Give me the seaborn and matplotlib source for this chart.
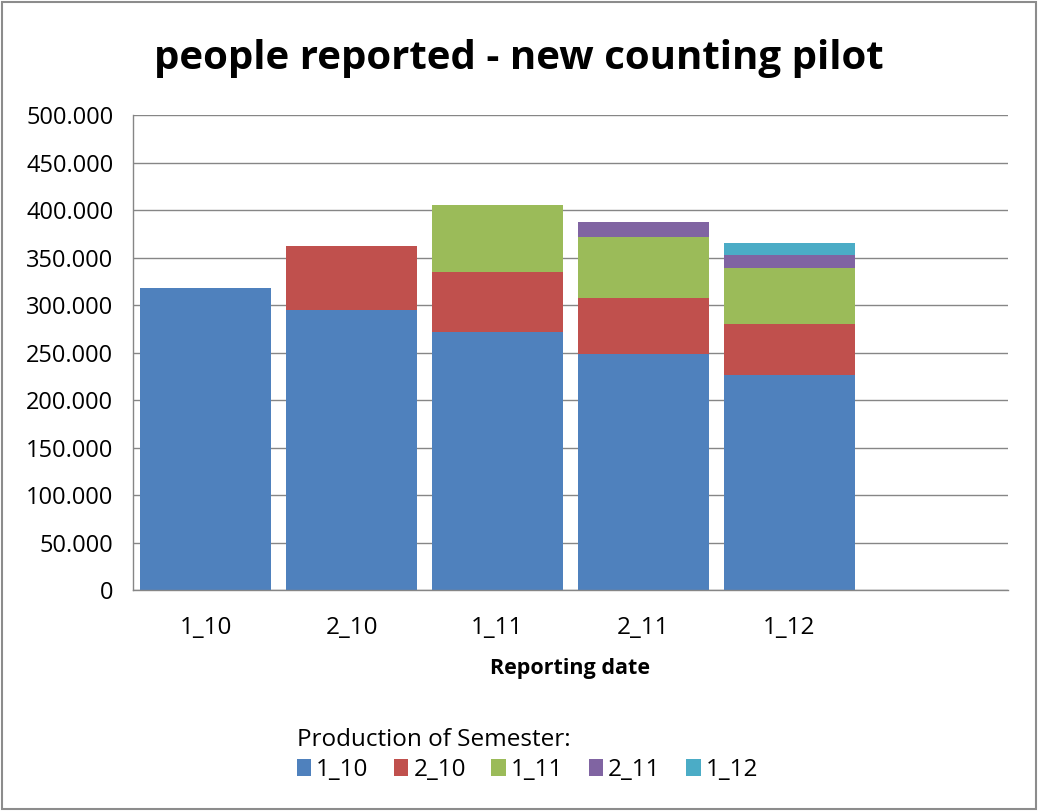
import matplotlib
matplotlib.use("Agg")
import matplotlib.pyplot as plt
from matplotlib.patches import Patch, Rectangle
from matplotlib.ticker import FuncFormatter, MultipleLocator, FixedLocator
import seaborn as sns

# Reporting dates (last slot is left empty on the axis)
reporting_dates = ["1_10", "2_10", "1_11", "2_11", "1_12", ""]

# People reported, split by production semester
series_names = ["1_10", "2_10", "1_11", "2_11", "1_12"]
prod_1_10 = [318000, 295000, 272000, 249000, 226000, 0]
prod_2_10 = [0, 67000, 63000, 58000, 54000, 0]
prod_1_11 = [0, 0, 70000, 65000, 59000, 0]
prod_2_11 = [0, 0, 0, 15500, 13500, 0]
prod_1_12 = [0, 0, 0, 0, 13000, 0]

series_values = [prod_1_10, prod_2_10, prod_1_11, prod_2_11, prod_1_12]
series_colors = ["#4F81BD", "#C0504D", "#9BBB59", "#8064A2", "#4BACC6"]

sns.set_style("white")
plt.rcParams["font.family"] = ["Open Sans", "DejaVu Sans"]
plt.rcParams["text.color"] = "#000000"
plt.rcParams["axes.labelcolor"] = "#000000"

fig = plt.figure(figsize=(10.38, 8.11), dpi=100)
ax = fig.add_axes([0.128, 0.2725, 0.843, 0.5855])

# cumulative totals, drawn from the top layer down so lower layers cover them
cumulative = []
running = [0] * len(reporting_dates)
for vals in series_values:
    running = [r + v for r, v in zip(running, vals)]
    cumulative.append(list(running))

for cum, color in reversed(list(zip(cumulative, series_colors))):
    sns.barplot(x=reporting_dates, y=cum, order=reporting_dates, color=color,
                width=0.9, linewidth=0, errorbar=None, saturation=1, ax=ax)

grid_color = "#868686"
ax.set_ylim(0, 500000)
ax.set_xlim(-0.5, len(reporting_dates) - 0.5)
ax.yaxis.set_major_locator(MultipleLocator(50000))
ax.yaxis.set_major_formatter(
    FuncFormatter(lambda v, _: "0" if v == 0 else f"{int(v):,}".replace(",", ".")))
ax.grid(axis="y", color=grid_color, linewidth=1.0)
ax.set_axisbelow(True)

for side in ["top", "right"]:
    ax.spines[side].set_visible(False)
for side in ["left", "bottom"]:
    ax.spines[side].set_color(grid_color)
    ax.spines[side].set_linewidth(1.0)

ax.tick_params(axis="y", which="major", length=7, width=1, color=grid_color,
               labelsize=17, pad=7, labelcolor="#000000")
ax.tick_params(axis="x", which="major", length=0, labelsize=17.5, pad=19,
               labelcolor="#000000")
ax.xaxis.set_minor_locator(FixedLocator([i - 0.5 for i in range(len(reporting_dates) + 1)]))
ax.tick_params(axis="x", which="minor", length=9, width=1, color=grid_color)

ax.set_xlabel("Reporting date", fontsize=15.5, fontweight="bold", labelpad=13)
ax.set_ylabel("")

fig.suptitle("people reported - new counting pilot", fontsize=29,
             fontweight="bold", y=0.952)

handles = [Patch(facecolor=c, edgecolor="none") for c in series_colors]
leg = fig.legend(handles, series_names, title="Production of Semester:",
                 ncol=5, loc="center", bbox_to_anchor=(0.508, 0.069),
                 frameon=False, fontsize=17.5, title_fontsize=17.5,
                 handlelength=0.6, handleheight=0.7, handletextpad=0.2,
                 columnspacing=1.05, alignment="left", labelspacing=0.2)
leg._legend_box.sep = 4

# outer chart border
fig.add_artist(Rectangle((0.002, 0.002), 0.996, 0.996, transform=fig.transFigure,
                         fill=False, edgecolor="#8C8C8C", linewidth=1.5))

fig.savefig("out.png", dpi=100)
